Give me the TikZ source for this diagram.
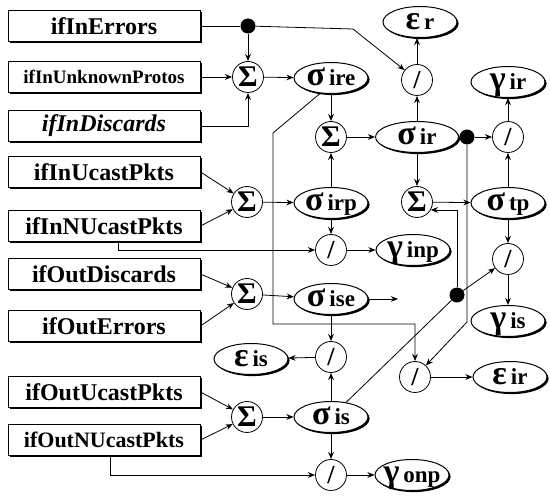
\documentclass[tikz,border=0pt]{standalone}
\usepackage{fontspec}
\setmainfont{Liberation Serif}
\usetikzlibrary{
  arrows.meta,
  shapes.geometric,
  positioning,
  calc,
  shadows
}
\newcommand{\vlab}[2]{{\fontsize{34}{34}\selectfont\bfseries #1}\hspace{4pt}{\fontsize{23}{23}\selectfont\bfseries #2}}
\tikzset{
  ctrbox/.style={
    draw, line width=1pt, fill=white, minimum width=192pt, minimum height=31pt,
    inner sep=0pt, font=\fontsize{24}{26}\selectfont\bfseries,
    drop shadow={shadow xshift=1.8pt, shadow yshift=-1.8pt, fill=black, opacity=1}
  },
  opnode/.style={draw, circle, line width=0.8pt, fill=white, minimum size=31pt, inner sep=0pt, font=\fontsize{30}{30}\selectfont\bfseries},
  divnode/.style={opnode, font=\fontsize{26}{26}\selectfont\bfseries},
  varnode/.style={
    draw, ellipse, line width=1pt, fill=white, minimum width=74pt, minimum height=31pt,
    inner ysep=0pt, inner xsep=-6pt, text height=15pt, text depth=0pt,
    drop shadow={shadow xshift=1.6pt, shadow yshift=-1.6pt, fill=black, opacity=1}
  },
  joint/.style={circle, fill=black, minimum size=15pt, inner sep=0pt},
  flow/.style={-{Stealth[length=2.5mm, width=2mm]}, line width=0.8pt},
  wire/.style={line width=0.8pt}
}

\begin{document}
\begin{tikzpicture}[x=1pt, y=-1pt]
  \useasboundingbox (0,0) rectangle (550,497);
  % interface counters
  \node[ctrbox] (inerr) at (104,26) {ifInErrors};
  \node[ctrbox, font=\fontsize{19}{21}\selectfont\bfseries] (inunk) at (104,77) {ifInUnknownProtos};
  \node[ctrbox, font=\fontsize{24}{26}\selectfont\bfseries\itshape] (indisc) at (104,126) {ifInDiscards};
  \node[ctrbox] (inuc) at (104,172) {ifInUcastPkts};
  \node[ctrbox] (innuc) at (104,226) {ifInNUcastPkts};
  \node[ctrbox] (outdisc) at (104,274) {ifOutDiscards};
  \node[ctrbox] (outerr) at (104,326) {ifOutErrors};
  \node[ctrbox] (outuc) at (104,392) {ifOutUcastPkts};
  \node[ctrbox, font=\fontsize{22}{24}\selectfont\bfseries] (outnuc) at (104,440) {ifOutNUcastPkts};

  % sums, ratios and results
  \node[joint] (dot1) at (248,26) {};
  \node[opnode] (sumie) at (248,77) {Σ};
  \node[varnode] (sire) at (331,78) {\vlab{σ}{ire}};
  \node[divnode] (slashr) at (417,80) {/};
  \node[varnode] (er) at (420,22) {\vlab{ε}{r}};
  \node[opnode] (sum3) at (331,137) {Σ};
  \node[varnode, minimum width=83pt] (sir) at (417,137) {\vlab{σ}{ir}};
  \node[joint] (dot2) at (467,137) {};
  \node[divnode] (slashir) at (508,137) {/};
  \node[varnode] (gir) at (508,82) {\vlab{γ}{ir}};
  \node[opnode] (suminp) at (247,202) {Σ};
  \node[varnode] (sirp) at (331,203) {\vlab{σ}{irp}};
  \node[opnode] (sum4) at (417,202) {Σ};
  \node[varnode] (stp) at (508,203) {\vlab{σ}{tp}};
  \node[divnode] (slashinp) at (331,250) {/};
  \node[varnode] (ginp) at (413,250) {\vlab{γ}{inp}};
  \node[divnode] (slashis) at (508,259) {/};
  \node[opnode] (sumoute) at (247,294) {Σ};
  \node[varnode] (sise) at (331,299) {\vlab{σ}{ise}};
  \node[joint] (dot3) at (457,295) {};
  \node[varnode] (gis) at (508,321) {\vlab{γ}{is}};
  \node[divnode] (slasheis) at (331,357) {/};
  \node[varnode] (eis) at (251,359) {\vlab{ε}{is}};
  \node[divnode] (slasheir) at (415,377) {/};
  \node[varnode] (eir) at (510,377) {\vlab{ε}{ir}};
  \node[opnode] (sumoutp) at (247,417) {Σ};
  \node[varnode] (sis) at (331,417) {\vlab{σ}{is}};
  \node[divnode] (slashonp) at (331,475) {/};
  \node[varnode] (gonp) at (412,475) {\vlab{γ}{onp}};

  \coordinate (bendr) at (353,29);
  \coordinate (kinka) at (273,133);
  \coordinate (kinkb) at (273,324);
  \coordinate (bendeir) at (467,322);
  \coordinate (iseend) at (398,299);

  % input side
  \draw[wire] (inerr) -- (dot1);
  \draw[flow] (dot1) -- (sumie);
  \draw[flow] (dot1) -- (bendr) -- (slashr);
  \draw[flow] (inunk) -- (sumie);
  \draw[flow] (indisc.east) -| (sumie);
  \draw[flow] (sumie) -- (sire); \draw[flow] (sire) -- (sum3); \draw[flow] (sum3) -- (sir);
  \draw[flow] (sir) -- (slashr); \draw[flow] (slashr) -- (er.south -| slashr);
  \draw[wire] (sir) -- (dot2);
  \draw[flow] (dot2) -- (slashir); \draw[flow] (slashir) -- (gir); \draw[flow] (stp) -- (slashir);
  \draw[flow] (sir) -- (sum4); \draw[flow] (sum4) -- (stp);
  \draw[flow] (stp) -- (slashis); \draw[flow] (slashis) -- (gis);
  \draw[flow] (dot2) -- (bendeir) -- (slasheir);
  \draw[flow] (sire.235) -- (kinka) -- (kinkb) -| (slasheir);
  \draw[flow] (slasheir) -- (eir);
  \draw[flow] (inuc.east) -- (suminp); \draw[flow] (innuc.east) -- (suminp);
  \draw[flow] (suminp) -- (sirp); \draw[flow] (sirp) -- (sum3); \draw[flow] (sirp) -- (slashinp);
  \draw[flow] ([xshift=14pt]innuc.south) |- (slashinp);
  \draw[flow] (slashinp) -- (ginp);

  % output side
  \draw[flow] (outdisc.east) -- (sumoute); \draw[flow] (outerr.east) -- (sumoute);
  \draw[flow] (sumoute) -- (sise); \draw[flow] (sise) -- (iseend);
  \draw[flow] (sise) -- (slasheis); \draw[flow] (sis) -- (slasheis); \draw[flow] (slasheis) -- (eis);
  \draw[flow] (outuc.east) -- (sumoutp); \draw[flow] (outnuc.east) -- (sumoutp);
  \draw[flow] (sumoutp) -- (sis); \draw[flow] (sis) -- (slashonp);
  \draw[flow] ([xshift=6pt]outnuc.south) |- (slashonp);
  \draw[flow] (slashonp) -- (gonp);
  \draw[wire] (sis) -- (dot3);
  \draw[flow] (dot3) -- (slashis);
  \draw[flow] (dot3) |- (sum4.-30);
\end{tikzpicture}
\end{document}
